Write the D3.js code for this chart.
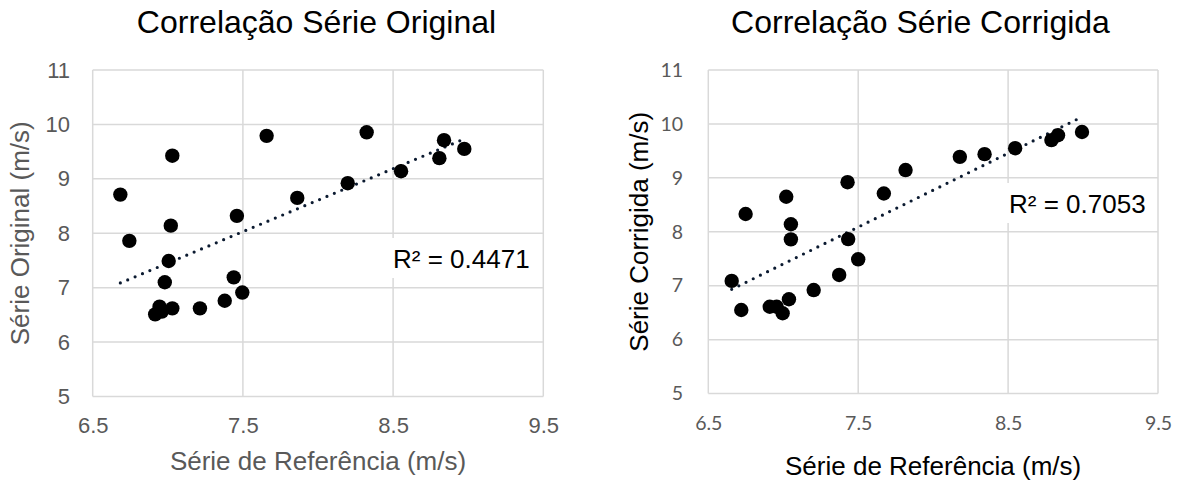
<!DOCTYPE html>
<html>
<head>
<meta charset="utf-8">
<script src="https://cdn.jsdelivr.net/npm/d3@7"></script>
<style>
  body { margin: 0; background: #fff; }
  svg { display: block; }
</style>
</head>
<body>
<svg id="chart" width="1184" height="482"></svg>
<script>
// reference series (x) and the two compared series (y)
const refOrig = [6.684, 6.744, 7.03, 7.02, 7.006, 6.98, 6.945, 6.916, 6.96, 7.03, 7.214, 7.379,
  7.439, 7.496, 7.46, 7.658, 7.862, 8.553, 8.324, 8.198, 8.839, 8.808, 8.974];
const serieOrig = [8.71, 7.86, 9.425, 8.14, 7.49, 7.10, 6.65, 6.51, 6.56, 6.62, 6.62, 6.76,
  7.19, 6.91, 8.32, 9.79, 8.65, 9.14, 9.855, 8.92, 9.71, 9.38, 9.55];

const refCorr = [6.656, 6.72, 6.749, 7.02, 7.051, 7.051, 7.038, 6.91, 6.956, 6.996, 7.203, 7.373,
  7.5, 7.433, 7.429, 7.671, 7.816, 8.178, 8.343, 8.547, 8.789, 8.833, 8.993];
const serieCorr = [7.09, 6.55, 8.33, 8.65, 8.14, 7.86, 6.75, 6.61, 6.61, 6.49, 6.92, 7.20,
  7.49, 7.865, 8.92, 8.71, 9.145, 9.39, 9.44, 9.55, 9.70, 9.79, 9.85];

const xTicks = [6.5, 7.5, 8.5, 9.5];
const yTicks = [5, 6, 7, 8, 9, 10, 11];
const titles = ["Correlação Série Original", "Correlação Série Corrigida"];
const yLabels = ["Série Original (m/s)", "Série Corrigida (m/s)"];
const xLabel = "Série de Referência (m/s)";
const r2Labels = ["R² = 0.4471", "R² = 0.7053"];

const svg = d3.select("#chart");

// least squares fit, as the spreadsheet trendline does
function linearFit(xs, ys) {
  const mx = d3.mean(xs), my = d3.mean(ys);
  let sxy = 0, sxx = 0;
  xs.forEach((x, i) => { sxy += (x - mx) * (ys[i] - my); sxx += (x - mx) * (x - mx); });
  const b = sxy / sxx;
  return { slope: b, intercept: my - b * mx };
}

function drawChart(o) {
  const x = d3.scaleLinear().domain([6.5, 9.5]).range([o.left, o.right]);
  const y = d3.scaleLinear().domain([5, 11]).range([o.bottom, o.top]);
  const g = svg.append("g");

  // grid
  g.append("g").selectAll("line").data(yTicks).join("line")
    .attr("x1", x(6.5)).attr("x2", x(9.5))
    .attr("y1", d => y(d)).attr("y2", d => y(d))
    .attr("stroke", "#d9d9d9").attr("stroke-width", 1.5);
  g.append("g").selectAll("line").data(xTicks).join("line")
    .attr("y1", y(5)).attr("y2", y(11))
    .attr("x1", d => x(d)).attr("x2", d => x(d))
    .attr("stroke", "#d9d9d9").attr("stroke-width", 1.5);

  // axes (labels only)
  const ya = g.append("g").attr("transform", `translate(${o.left},0)`)
    .call(d3.axisLeft(y).tickValues(yTicks).tickSize(0).tickPadding(o.yPad).tickFormat(d3.format("d")));
  const xa = g.append("g").attr("transform", `translate(0,${o.bottom})`)
    .call(d3.axisBottom(x).tickValues(xTicks).tickSize(0).tickPadding(o.xPad).tickFormat(d3.format(".1f")));
  [ya, xa].forEach(a => {
    a.select(".domain").remove();
    a.selectAll("text").attr("font-family", o.tickFont).attr("font-size", o.tickSize).attr("fill", "#595959");
  });

  // R² label box
  const fit = linearFit(o.xs, o.ys);
  g.append("rect").attr("x", o.r2x - 6).attr("y", o.r2y - 30).attr("width", 150).attr("height", 40).attr("fill", "#fff");

  // trendline
  const ext = d3.extent(o.xs);
  g.append("line")
    .attr("x1", x(ext[0])).attr("y1", y(fit.intercept + fit.slope * ext[0]))
    .attr("x2", x(ext[1])).attr("y2", y(fit.intercept + fit.slope * ext[1]))
    .attr("stroke", "#0b1a30").attr("stroke-width", 3.2)
    .attr("stroke-linecap", "round").attr("stroke-dasharray", "0 8");

  // points
  g.append("g").selectAll("circle").data(o.xs).join("circle")
    .attr("cx", d => x(d)).attr("cy", (d, i) => y(o.ys[i]))
    .attr("r", 7.2).attr("fill", "#000");

  g.append("text").attr("x", o.r2x).attr("y", o.r2y)
    .attr("font-family", "Liberation Sans, Arial, sans-serif").attr("font-size", 26)
    .attr("fill", "#000").text(o.r2);

  // titles
  g.append("text").attr("x", o.titleX).attr("y", 33).attr("text-anchor", "middle")
    .attr("font-family", "Liberation Sans, Arial, sans-serif").attr("font-size", 32)
    .attr("fill", "#000").text(o.title);
  g.append("text").attr("x", (o.left + o.right) / 2).attr("y", o.xLabelY).attr("text-anchor", "middle")
    .attr("font-family", "Liberation Sans, Arial, sans-serif").attr("font-size", 26)
    .attr("fill", o.labelColor).text(xLabel);
  g.append("text").attr("transform", `translate(${o.yLabelX},${(o.top + o.bottom) / 2}) rotate(-90)`)
    .attr("text-anchor", "middle")
    .attr("font-family", "Liberation Sans, Arial, sans-serif").attr("font-size", 26)
    .attr("fill", o.labelColor).text(o.yLabel);
}

drawChart({
  xs: refOrig, ys: serieOrig, left: 92.7, right: 543.3, top: 70, bottom: 396.5,
  yPad: 22.7, xPad: 21, tickFont: "Liberation Sans, Arial, sans-serif", tickSize: 22,
  title: titles[0], titleX: 316.5, yLabel: yLabels[0], yLabelX: 29, xLabelY: 470,
  labelColor: "#595959", r2: r2Labels[0], r2x: 393, r2y: 268
});

drawChart({
  xs: refCorr, ys: serieCorr, left: 708.3, right: 1158, top: 70, bottom: 393.6,
  yPad: 25.3, xPad: 23, tickFont: "Lato, sans-serif", tickSize: 19.5,
  title: titles[1], titleX: 920.5, yLabel: yLabels[1], yLabelX: 648, xLabelY: 475,
  labelColor: "#000", r2: r2Labels[1], r2x: 1009, r2y: 213
});
</script>
</body>
</html>
